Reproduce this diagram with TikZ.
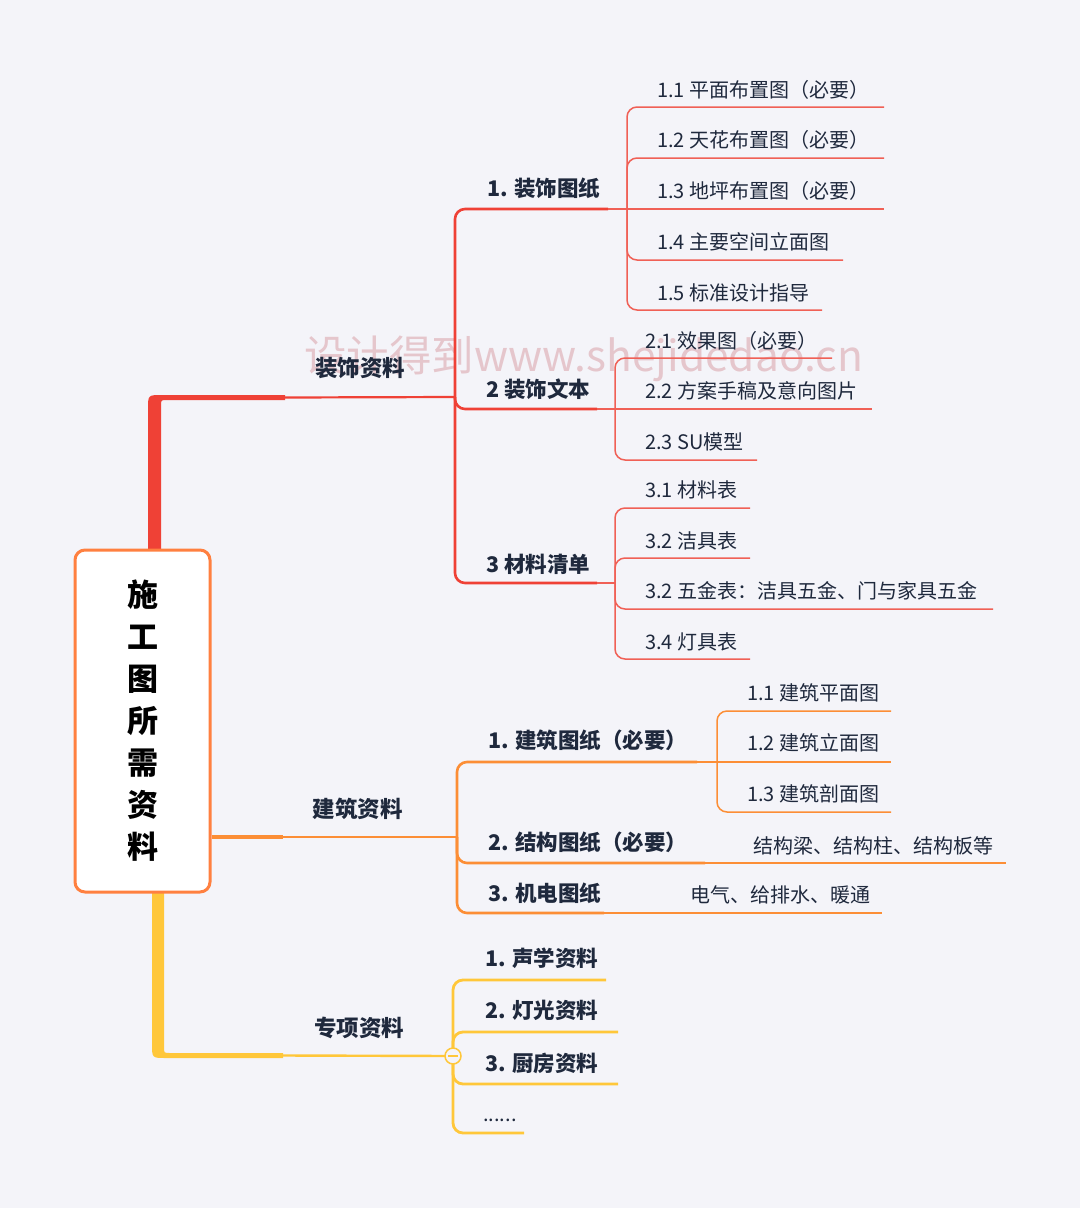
\documentclass[tikz,border=0pt]{standalone}
\usepackage{fontspec}
\setmainfont{Noto Sans CJK SC}
\definecolor{bg}{RGB}{244,244,249}
\definecolor{ink}{RGB}{31,41,61}
\definecolor{rmain}{RGB}{239,65,54}
\definecolor{rsub}{RGB}{240,96,86}
\definecolor{omain}{RGB}{252,142,54}
\definecolor{rootor}{RGB}{255,128,64}
\definecolor{ymain}{RGB}{255,199,58}
\definecolor{wmc}{RGB}{229,198,204}
\begin{document}
\begin{tikzpicture}[x=1pt,y=-1pt,
  txt/.style={inner sep=0pt, text=ink, text height=0.88em, text depth=0.12em},
  lone/.style={txt, yshift=-6.5pt, font=\bfseries\fontsize{22.5}{27}\selectfont},
  ltwo/.style={txt, yshift=-5pt, anchor=west, font=\bfseries\fontsize{21.5}{26}\selectfont},
  lthree/.style={txt, yshift=-5pt, anchor=west, font=\fontsize{20}{24}\selectfont},
  redtwo/.style={draw=rmain, line width=2.6pt, rounded corners=10pt},
  redthree/.style={draw=rsub, line width=1.5pt, rounded corners=10pt},
  ortwo/.style={draw=omain, line width=2.6pt, rounded corners=10pt},
  orthree/.style={draw=omain, line width=1.5pt, rounded corners=10pt},
  yetwo/.style={draw=ymain, line width=2.8pt, rounded corners=10pt}
]
\useasboundingbox (0,0) rectangle (1080,1208);
\fill[bg] (0,0) rectangle (1080,1208);

% watermark
\node[anchor=west, inner sep=0pt, text=wmc, font=\fontsize{42.5}{50}\selectfont, text height=0.88em, text depth=0.12em, yshift=-11pt] (wm) at (304,357) {设计得到www.shejidedao.cn};

% ---------- trunks ----------
\fill[rmain] (148,551) -- (148,409) .. controls (148,395) .. (162,395) -- (285,395) -- (285,400) -- (167,400) .. controls (161,400) .. (161,406) -- (161,551) -- cycle;
\fill[ymain] (152,891) -- (152,1044) .. controls (152,1058) .. (166,1058) -- (283,1058) -- (283,1053) -- (170,1053) .. controls (164,1053) .. (164,1047) -- (164,891) -- cycle;

% ---------- root ----------
\node[draw=rootor, line width=3pt, fill=white, rounded corners=10pt, minimum width=135pt, minimum height=342pt, inner sep=0pt, align=center, text=black, font=\bfseries\fontsize{31}{42}\selectfont] (root) at (142.5,721) {施\\工\\图\\所\\需\\资\\料};

% ---------- level 1 ----------
\node[lone] (deco) at (360,366) {装饰资料};
\node[lone] (arch) at (357.5,807) {建筑资料};
\node[lone] (spec) at (359,1026) {专项资料};

\coordinate (rJ) at (455,397);
\coordinate (oJ) at (457,837);
\coordinate (yJ) at (453,1056);
\draw[rmain, line width=2.2pt] (285,397.5) -- (rJ);
\draw[omain, line width=4.5pt] (root.east |- oJ) -- (283,837);
\draw[omain, line width=2.4pt] (283,837) -- (oJ);
\draw[ymain, line width=2.4pt] (283,1055.5) -- (yJ);

% ---------- 装饰资料 ----------
\node[ltwo] (d1) at (487,188) {1. 装饰图纸};
\node[ltwo] (d2) at (486,389) {2 装饰文本};
\node[ltwo] (d3) at (486,564) {3 材料清单};
\coordinate (d1e) at (608,209);
\coordinate (d2e) at (597,409);
\coordinate (d3e) at (597,583);
\draw[redtwo] (rJ) |- (d1e);
\draw[redtwo] (rJ) |- (d2e);
\draw[redtwo] (rJ) |- (d3e);

\coordinate (d1J) at (627,209);
\coordinate (d2J) at (615,409);
\coordinate (d3J) at (615,583);
\draw[redthree] (d1e) -- (d1J);
\draw[redthree] (d2e) -- (d2J);
\draw[redthree] (d3e) -- (d3J);

\node[lthree] (d11) at (657,89) {1.1 平面布置图（必要）};
\node[lthree] (d12) at (657,139) {1.2 天花布置图（必要）};
\node[lthree] (d13) at (657,190) {1.3 地坪布置图（必要）};
\node[lthree] (d14) at (657,241) {1.4 主要空间立面图};
\node[lthree] (d15) at (657,292) {1.5 标准设计指导};
\draw[redthree] (d1J) |- (884,107);
\draw[redthree] (d1J) |- (884,158);
\draw[redthree] (d1J) -- (884,209);
\draw[redthree] (d1J) |- (843,260);
\draw[redthree] (d1J) |- (822,310);

\node[lthree] (d21) at (645,340) {2.1 效果图（必要）};
\node[lthree] (d22) at (645,390) {2.2 方案手稿及意向图片};
\node[lthree] (d23) at (645,441) {2.3 SU模型};
\draw[redthree] (d2J) |- (832,358);
\draw[redthree] (d2J) -- (872,409);
\draw[redthree] (d2J) |- (757,460);

\node[lthree] (d31) at (645,489) {3.1 材料表};
\node[lthree] (d32) at (645,540) {3.2 洁具表};
\node[lthree] (d33) at (645,590) {3.2 五金表：洁具五金、门与家具五金};
\node[lthree] (d34) at (645,641) {3.4 灯具表};
\draw[redthree] (d3J) |- (750,508);
\draw[redthree] (d3J) |- (750,558);
\draw[redthree] (d3J) |- (993,609);
\draw[redthree] (d3J) |- (750,659);

% ---------- 建筑资料 ----------
\node[ltwo] (a1) at (488,740) {1. 建筑图纸（必要）};
\node[ltwo] (a2) at (488,842) {2. 结构图纸（必要）};
\node[ltwo] (a3) at (488,893) {3. 机电图纸};
\coordinate (a1e) at (697,762);
\coordinate (a2e) at (705,863);
\coordinate (a3e) at (604,913);
\draw[ortwo] (oJ) |- (a1e);
\draw[ortwo] (oJ) |- (a2e);
\draw[ortwo] (oJ) |- (a3e);

\coordinate (a1J) at (717,762);
\draw[orthree] (a1e) -- (a1J);
\node[lthree] (a11) at (747,692) {1.1 建筑平面图};
\node[lthree] (a12) at (747,742) {1.2 建筑立面图};
\node[lthree] (a13) at (747,793) {1.3 建筑剖面图};
\draw[orthree] (a1J) |- (891,711);
\draw[orthree] (a1J) -- (891,762);
\draw[orthree] (a1J) |- (891,812);

\node[lthree] (a21) at (753,845) {结构梁、结构柱、结构板等};
\draw[orthree] (a2e) -- (1006,863);
\node[lthree] (a31) at (690,894) {电气、给排水、暖通};
\draw[orthree] (a3e) -- (882,913);

% ---------- 专项资料 ----------
\node[ltwo] (s1) at (485,958) {1. 声学资料};
\node[ltwo] (s2) at (485,1010) {2. 灯光资料};
\node[ltwo] (s3) at (485,1063) {3. 厨房资料};
\node[anchor=base west, inner sep=0pt, text=ink, font=\fontsize{20}{24}\selectfont] (s4) at (483,1121) {......};
\draw[yetwo] (yJ) |- (606,980);
\draw[yetwo] (yJ) |- (618,1032);
\draw[yetwo] (yJ) |- (618,1084);
\draw[yetwo] (yJ) |- (524,1133);
\node[circle, draw=ymain, line width=1.5pt, fill=bg, minimum size=16pt, inner sep=0pt] (col) at (yJ) {};
\draw[ymain, line width=1.5pt] ([xshift=-5pt]col.center) -- ([xshift=5pt]col.center);
\end{tikzpicture}
\end{document}
